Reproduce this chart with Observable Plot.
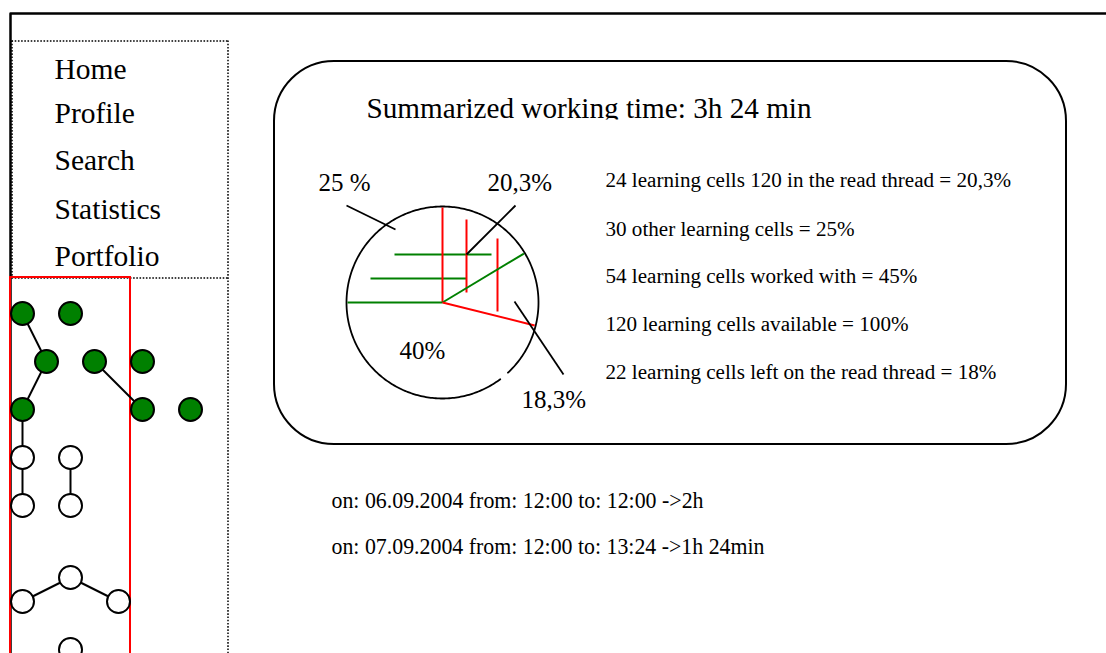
<!DOCTYPE html>
<html><head><meta charset="utf-8">
<script src="https://cdn.jsdelivr.net/npm/d3@7"></script>
<script src="https://cdn.jsdelivr.net/npm/@observablehq/plot@0.6"></script>
<style>body{margin:0;background:#fff;overflow:hidden}</style>
</head><body><div id="chart"></div>
<script>
// ---- content ----
const menuItems = ["Home", "Profile", "Search", "Statistics", "Portfolio"];
const title = "Summarized working time: 3h 24 min";
const legendItems = [
  "24 learning cells 120 in the read thread = 20,3%",
  "30 other learning cells = 25%",
  "54 learning cells worked with = 45%",
  "120 learning cells available = 100%",
  "22 learning cells left on the read thread = 18%"
];
const sessions = [
  "on: 06.09.2004 from: 12:00 to: 12:00 ->2h",
  "on: 07.09.2004 from: 12:00 to: 13:24 ->1h 24min"
];
const pieLabels = ["25 %", "20,3%", "40%", "18,3%"];
// slice boundaries (degrees, counter-clockwise from east) and their colours
const pieBoundaryAngles = [90, 180, 31, -14];
const pieBoundaryKinds = ["red", "green", "green", "red"];
// learning-cell graph: column, row, worked-on
const nodeCols = [0, 2, 1, 3, 5, 0, 5, 7, 0, 2, 0, 2, 0, 2, 4, 2];
const nodeRows = [0, 0, 1, 1, 1, 2, 2, 2, 3, 3, 4, 4, 6, 5.5, 6, 7];
const nodeDone = [1, 1, 1, 1, 1, 1, 1, 1, 0, 0, 0, 0, 0, 0, 0, 0];
const edgeFrom = [0, 2, 3, 5, 8, 9, 12, 13];
const edgeTo   = [2, 5, 6, 8, 10, 11, 13, 14];

// ---- layout ----
const W = 1106, H = 653;
const serif = "'Liberation Serif', 'Times New Roman', Times, serif";
const L = {
  menuX: 54, menuY: [78, 122, 169, 218, 265], menuSize: 29.5,
  titleX: 366, titleY: 117, titleSize: 29.2,
  legendX: 605, legendY: [186, 235, 282, 330, 378], legendSize: 21.1,
  sessionX: 331, sessionY: [507, 553], sessionSize: 24, sessionWidths: [372, 433],
  pie: {cx: 442, cy: 302, r: 96, gapFrom: -52.6, gapTo: -47},
  pieLabelPos: [[318, 190], [487, 190], [399, 358], [521, 407]], pieLabelSize: 25,
  graph: {x0: 22, y0: 313, dx: 24, dy: 48, r: 11.5}
};
const colors = {green: "#008000", red: "#ff0000"};
const dotted = {stroke: "black", strokeWidth: 1.5, strokeDasharray: "1.6,1.6"};
// dotted panel edges (menu box and the panel below it)
const dottedSegs = [
  {x1: 11, y1: 40.5, x2: 228, y2: 40.5},
  {x1: 11.5, y1: 40, x2: 11.5, y2: 277},
  {x1: 227.5, y1: 40, x2: 227.5, y2: H + 6},
  {x1: 11, y1: 277.5, x2: 228, y2: 277.5}
];

// derived geometry
const P = L.pie;
const polar = (deg, rr) => [P.cx + rr * Math.cos(deg * Math.PI / 180), P.cy - rr * Math.sin(deg * Math.PI / 180)];
const arc = d3.range(L.pie.gapTo, 360 + L.pie.gapFrom + 0.01, 1).map(a => polar(a, P.r));
const boundaries = pieBoundaryAngles.map((a, i) => {
  const [x2, y2] = polar(a, P.r - 1);
  return {x1: P.cx, y1: P.cy, x2, y2, c: colors[pieBoundaryKinds[i]]};
});
const hatches = [
  {x1: 394, y1: 254, x2: 491, y2: 254, c: colors.green},
  {x1: 370, y1: 278, x2: 466, y2: 278, c: colors.green},
  {x1: 466, y1: 219, x2: 466, y2: 292, c: colors.red},
  {x1: 497, y1: 238, x2: 497, y2: 311, c: colors.red}
];
const leaders = [
  {x1: 346, y1: 205, x2: 395, y2: 229},
  {x1: 515, y1: 205, x2: 466, y2: 254},
  {x1: 514, y1: 301, x2: 563, y2: 374}
];
const G = L.graph;
const nodes = nodeCols.map((c, i) => ({x: G.x0 + G.dx * c, y: G.y0 + G.dy * nodeRows[i], done: nodeDone[i]}));
const edges = edgeFrom.map((f, i) => ({x1: nodes[f].x, y1: nodes[f].y, x2: nodes[edgeTo[i]].x, y2: nodes[edgeTo[i]].y}));

const texts = (strs, x, ys, size) => Plot.text(strs.map((t, i) => ({t, x, y: ys[i]})), {
  x: "x", y: "y", text: "t", fontSize: size, fontFamily: serif, textAnchor: "start", lineAnchor: "bottom", fill: "black"
});
const seg = {x1: "x1", y1: "y1", x2: "x2", y2: "y2"};

const chart = Plot.plot({
  width: W, height: H, margin: 0,
  x: {domain: [0, W], range: [0, W], axis: null},
  y: {domain: [0, H], range: [0, H], axis: null},
  style: {fontFamily: serif, background: "white"},
  marks: [
    // outer frame
    Plot.line([[10, H + 5], [10, 13], [W + 5, 13]], {stroke: "black", strokeWidth: 2.5}),
    // dotted panels
    Plot.link(dottedSegs, {...seg, ...dotted}),
    // red selection column
    Plot.rect([{x1: 10, x2: 130, y1: 277, y2: H + 10}], {...seg, fill: "none", stroke: colors.red, strokeWidth: 2}),
    // menu
    texts(menuItems, L.menuX, L.menuY, L.menuSize),
    // graph
    Plot.link(edges, {...seg, stroke: "black", strokeWidth: 2}),
    Plot.dot(nodes.filter(d => d.done), {x: "x", y: "y", r: G.r, fill: colors.green, stroke: "black", strokeWidth: 2}),
    Plot.dot(nodes.filter(d => !d.done), {x: "x", y: "y", r: G.r, fill: "white", stroke: "black", strokeWidth: 2}),
    // rounded summary panel
    Plot.rect([{x1: 274, x2: 1066, y1: 61, y2: 444}], {...seg, rx: 60, fill: "none", stroke: "black", strokeWidth: 2}),
    // title (bottom clipped as in the original)
    texts([title], L.titleX, [L.titleY], L.titleSize),
    Plot.rect([{x1: 360, x2: 830, y1: 119.5, y2: 128}], {...seg, fill: "white"}),
    // pie
    Plot.line(arc, {stroke: "black", strokeWidth: 1.8}),
    Plot.link(hatches, {...seg, stroke: "c", strokeWidth: 2}),
    Plot.link(boundaries, {...seg, stroke: "c", strokeWidth: 2}),
    Plot.link(leaders, {...seg, stroke: "black", strokeWidth: 1.8}),
    Plot.text(pieLabels.map((t, i) => ({t, x: L.pieLabelPos[i][0], y: L.pieLabelPos[i][1]})), {
      x: "x", y: "y", text: "t", fontSize: L.pieLabelSize, fontFamily: serif, textAnchor: "start", lineAnchor: "bottom", fill: "black"
    }),
    // legend
    texts(legendItems, L.legendX, L.legendY, L.legendSize),
    // sessions
    texts(sessions, L.sessionX, L.sessionY, L.sessionSize)
  ]
});
// session lines are set slightly condensed, as in the original
d3.select(chart).selectAll("text").each(function () {
  const i = sessions.indexOf(this.textContent);
  if (i >= 0) {
    this.setAttribute("textLength", L.sessionWidths[i]);
    this.setAttribute("lengthAdjust", "spacingAndGlyphs");
  }
});
document.getElementById("chart").append(chart);
</script>
</body></html>
